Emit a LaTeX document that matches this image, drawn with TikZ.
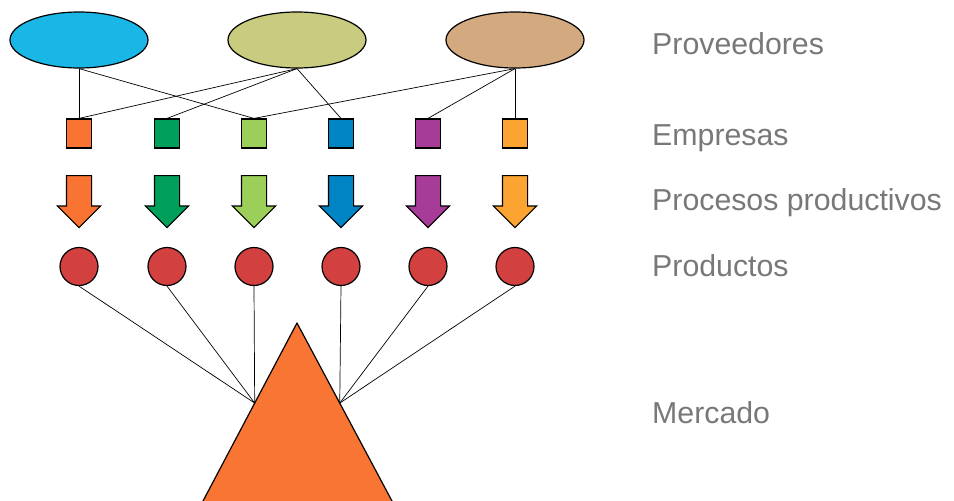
\documentclass[tikz,border=0pt]{standalone}
\usepackage{fontspec}
\setmainfont{Liberation Sans}
\usepackage{tikz}
\usetikzlibrary{shapes.geometric,shapes.arrows,calc}

\definecolor{supblue}{RGB}{26,183,230}
\definecolor{supolive}{RGB}{201,204,126}
\definecolor{suptan}{RGB}{211,170,128}
\definecolor{firmorange}{RGB}{249,116,51}
\definecolor{firmgreen}{RGB}{0,160,90}
\definecolor{firmlime}{RGB}{155,207,90}
\definecolor{firmblue}{RGB}{0,132,196}
\definecolor{firmpurple}{RGB}{166,60,152}
\definecolor{firmamber}{RGB}{251,164,49}
\definecolor{prodred}{RGB}{211,64,64}
\definecolor{marketorange}{RGB}{249,117,51}
\definecolor{labelgray}{RGB}{120,120,120}

\tikzset{
    supplier/.style={ellipse, draw=black, line width=1.2pt, minimum width=138pt, minimum height=56pt},
    firm/.style={rectangle, draw=black, line width=1.2pt, minimum width=25pt, minimum height=29pt, inner sep=0pt},
    process/.style={single arrow, draw=black, line width=1.2pt, rotate=-90, anchor=tail,
        minimum height=52pt, minimum width=42pt, single arrow head extend=9pt,
        inner xsep=0pt, inner ysep=12pt},
    product/.style={circle, draw=black, fill=prodred, line width=1.2pt, minimum size=38pt, inner sep=0pt},
    link/.style={black, line width=0.7pt},
    level/.style={anchor=base west, inner xsep=0pt, text=labelgray, font=\fontsize{30.3}{35}\selectfont}
}

\begin{document}
\begin{tikzpicture}[x=1pt, y=-1pt]

        \clip (0,0) rectangle (954,501);

        \node[supplier, fill=supblue] (sup1) at (79,40) {};
        \node[supplier, fill=supolive] (sup2) at (297,40) {};
        \node[supplier, fill=suptan] (sup3) at (515,40) {};

        \node[firm, fill=firmorange] (firm1) at (79,133.5) {};
        \node[firm, fill=firmgreen] (firm2) at (167,133.5) {};
        \node[firm, fill=firmlime] (firm3) at (254,133.5) {};
        \node[firm, fill=firmblue] (firm4) at (341,133.5) {};
        \node[firm, fill=firmpurple] (firm5) at (428,133.5) {};
        \node[firm, fill=firmamber] (firm6) at (515,133.5) {};

        \draw[link] (sup1.south) -- (firm1.north);
        \draw[link] (sup1.south) -- (firm3.north);
        \draw[link] (sup2.south) -- (firm1.north);
        \draw[link] (sup2.south) -- (firm2.north);
        \draw[link] (sup2.south) -- (firm4.north);
        \draw[link] (sup3.south) -- (firm3.north);
        \draw[link] (sup3.south) -- (firm5.north);
        \draw[link] (sup3.south) -- (firm6.north);

        \node[process, fill=firmorange] (proc1) at (79,175) {};
        \node[process, fill=firmgreen] (proc2) at (167,175) {};
        \node[process, fill=firmlime] (proc3) at (254,175) {};
        \node[process, fill=firmblue] (proc4) at (341,175) {};
        \node[process, fill=firmpurple] (proc5) at (428,175) {};
        \node[process, fill=firmamber] (proc6) at (515,175) {};

        \node[product] (prod1) at (79,266.5) {};
        \node[product] (prod2) at (167,266.5) {};
        \node[product] (prod3) at (254,266.5) {};
        \node[product] (prod4) at (341,266.5) {};
        \node[product] (prod5) at (428,266.5) {};
        \node[product] (prod6) at (515,266.5) {};

        \coordinate (apex) at (297,323);
        \coordinate (baseL) at ($(apex)!1.07!(203,501)$);
        \coordinate (baseR) at ($(apex)!1.07!(392,501)$);
        \coordinate (mktL) at ($(apex)!0.45!(203,501)$);
        \coordinate (mktR) at ($(apex)!0.45!(392,501)$);

        \filldraw[fill=marketorange, draw=black, line width=1.2pt, line join=round] (apex) -- (baseL) -- (baseR) -- cycle;

        \draw[link] (prod1.south) -- (mktL);
        \draw[link] (prod2.south) -- (mktL);
        \draw[link] (prod3.south) -- (mktL);
        \draw[link] (prod4.south) -- (mktR);
        \draw[link] (prod5.south) -- (mktR);
        \draw[link] (prod6.south) -- (mktR);

        \node[level] (lblsup) at (652,54) {Proveedores};
        \node[level] (lblfirm) at (652,145) {Empresas};
        \node[level] (lblproc) at (652,210) {Procesos productivos};
        \node[level] (lblprod) at (652,276) {Productos};
        \node[level] (lblmkt) at (652,423) {Mercado};

\end{tikzpicture}
\end{document}
